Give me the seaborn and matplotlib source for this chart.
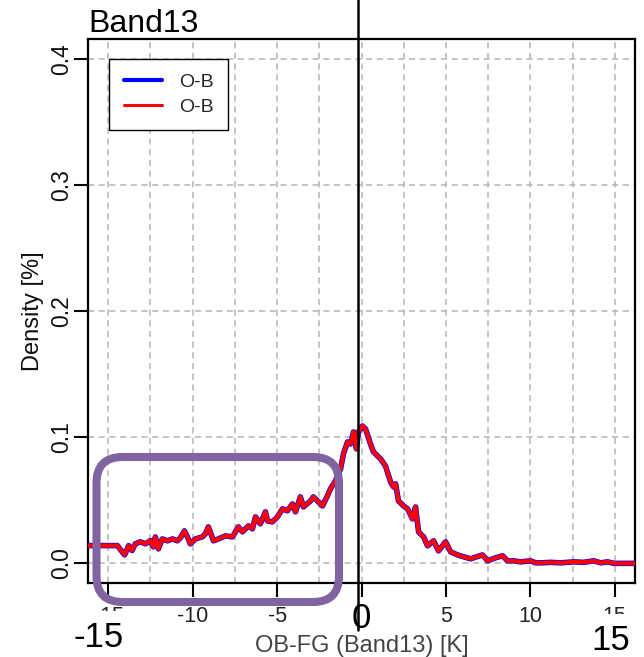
import matplotlib
matplotlib.use("Agg")
import matplotlib.pyplot as plt
from matplotlib.lines import Line2D
from matplotlib.patches import FancyBboxPatch
from matplotlib.transforms import blended_transform_factory, offset_copy
import seaborn as sns

# Departure statistics, Band13: density of OB-FG [K]
obs_x = [-16.2, -14.46, -14.22, -14.03, -13.79, -13.59, -13.40, -13.10, -12.80, -12.51,
         -12.33, -12.21, -12.03, -11.80, -11.50, -11.20, -10.91, -10.73, -10.49, -10.31,
         -10.14, -9.84, -9.43, -9.25, -9.07, -8.77, -8.48, -8.06, -7.65, -7.29,
         -7.05, -6.70, -6.46, -6.28, -5.99, -5.69, -5.57, -5.28, -4.98, -4.68,
         -4.39, -4.09, -3.91, -3.62, -3.44, -3.02, -2.85, -2.31, -2.02, -1.84,
         -1.54, -1.24, -1.07, -0.83, -0.65, -0.47, -0.30, -0.18, 0.06, 0.24,
         0.53, 0.71, 1.13, 1.42, 1.72, 1.90, 2.02, 2.19, 2.49, 2.73,
         3.02, 3.20, 3.38, 3.68, 3.91, 4.27, 4.56, 4.98, 5.28, 5.69,
         6.05, 6.46, 6.82, 7.17, 7.47, 7.94, 8.36, 8.65, 9.01, 9.42,
         10.02, 10.31, 10.61, 11.20, 11.80, 12.57, 13.16, 13.75, 14.17, 14.58,
         14.94, 15.65, 16.24]
obs_y = [0.0137, 0.0137, 0.0095, 0.0063, 0.0137, 0.0098, 0.0151, 0.0167, 0.0151, 0.0177,
         0.0127, 0.0206, 0.0111, 0.0190, 0.0175, 0.0190, 0.0175, 0.0198, 0.0254, 0.0206,
         0.0151, 0.0190, 0.0206, 0.0230, 0.0286, 0.0175, 0.0190, 0.0214, 0.0206, 0.0286,
         0.0246, 0.0294, 0.0270, 0.0365, 0.0310, 0.0405, 0.0333, 0.0325, 0.0365, 0.0429,
         0.0413, 0.0468, 0.0405, 0.0524, 0.0444, 0.0492, 0.0524, 0.0452, 0.0532, 0.0587,
         0.0651, 0.0746, 0.0865, 0.0960, 0.0944, 0.1040, 0.0905, 0.1040, 0.1087, 0.1063,
         0.0944, 0.0881, 0.0825, 0.0770, 0.0643, 0.0603, 0.0627, 0.0492, 0.0452, 0.0429,
         0.0349, 0.0444, 0.0246, 0.0206, 0.0135, 0.0175, 0.0095, 0.0167, 0.0087, 0.0063,
         0.0048, 0.0032, 0.0048, 0.0063, 0.0016, 0.0040, 0.0056, 0.0016, 0.0016, 0.0008,
         0.0016, 0.0000, 0.0000, 0.0004, 0.0000, 0.0008, 0.0004, 0.0016, 0.0000, 0.0008,
         -0.0004, -0.0004, -0.0004]

series_labels = ["O-B", "O-B"]
series_colors = ["blue", "red"]
x_ticks = [-15, -10, -5, 0, 5, 10, 15]
x_grid = [-15, -12.5, -10, -7.5, -5, -2.5, 0, 2.5, 5, 7.5, 10, 12.5, 15]
y_ticks = [0.0, 0.1, 0.2, 0.3, 0.4]
y_tick_labels = ["0.0", "0.1", "0.2", "0.3", "0.4"]
range_marks = [-15, 0, 15]

sns.set_theme(style="ticks")
plt.rcParams["font.family"] = ["Liberation Sans", "DejaVu Sans"]
plt.rcParams["axes.unicode_minus"] = False

W, H = 644, 657
fig = plt.figure(figsize=(W / 100, H / 100), dpi=100)
fig.patch.set_facecolor("white")
ax = fig.add_axes([88 / W, 1 - 583 / H, (635 - 88) / W, (583 - 39) / H])
ax.set_facecolor("white")

# density curve: blue underneath, red on top
sns.lineplot(x=obs_x, y=obs_y, color=series_colors[0], lw=4.0, ax=ax,
             sort=False, estimator=None, zorder=3)
sns.lineplot(x=obs_x, y=obs_y, color=series_colors[1], lw=3.0, ax=ax,
             sort=False, estimator=None, zorder=4)

ax.set_xlim(-16.2, 16.2)
ax.set_ylim(-0.016, 0.416)
ax.set_xticks(x_ticks)
ax.set_xticks(x_grid, minor=True)
ax.set_yticks(y_ticks)
ax.set_yticklabels(y_tick_labels, rotation=90, va="center")

grid_kw = dict(color="#b4b4b4", lw=1.1, linestyle=(0, (4, 3)))
ax.grid(which="both", axis="x", **grid_kw)
ax.grid(which="major", axis="y", **grid_kw)
ax.set_axisbelow(True)

ax.tick_params(axis="both", which="major", length=10, width=1.5, color="black",
               direction="out")
ax.tick_params(axis="both", which="minor", length=0)
ax.tick_params(axis="x", labelsize=15.5, labelcolor="#222222", pad=6.5)
ax.tick_params(axis="y", labelsize=16.5, labelcolor="#111111", pad=1)
for sp in ax.spines.values():
    sp.set_visible(True)
    sp.set_color("black")
    sp.set_linewidth(1.6)

ax.set_title("Band13", loc="left", fontsize=23, pad=2, color="black")
ax.set_xlabel("OB-FG (Band13) [K]", fontsize=17, color="#444444", labelpad=6)
ax.set_ylabel("Density [%]", fontsize=17, color="#111111", labelpad=4)

handles = [Line2D([], [], color=series_colors[0], lw=3.0, solid_capstyle="round"),
           Line2D([], [], color=series_colors[1], lw=2.2, solid_capstyle="round")]
leg = ax.legend(handles, series_labels, loc="upper left",
                bbox_to_anchor=((109 - 88) / 547, (583 - 59) / 544),
                borderaxespad=0, fontsize=14, frameon=True, fancybox=False,
                framealpha=1, edgecolor="black", handlelength=2.0,
                handletextpad=0.85, labelspacing=0.35, borderpad=0.75)
leg.get_frame().set_linewidth(1.0)

# callout frame around the negative tail
frame = FancyBboxPatch((96.5 / 100, (H - 602) / 100), (339 - 96.5) / 100, (602 - 457) / 100,
                       boxstyle="round,pad=0,rounding_size=0.26",
                       transform=fig.dpi_scale_trans, fill=False,
                       edgecolor="#8064A2", lw=5.8, zorder=5)
fig.patches.append(frame)

# range labels below the axis
bt = blended_transform_factory(ax.transData, fig.transFigure)
mark_dx = [-10, 0, -4]
mark_base = [647, 628, 650]
mark_pad = [0.3, 0.0, 0.3]
for val, dx, base, pad in zip(range_marks, mark_dx, mark_base, mark_pad):
    tr = offset_copy(bt, fig=fig, x=dx, y=0, units="dots")
    fig.text(val, 1 - base / H, f"{val:d}", transform=tr, ha="center", va="baseline",
             fontsize=25, color="black", zorder=6,
             bbox=dict(boxstyle=f"square,pad={pad}", fc="white", ec="none"))

# reference line at zero
tr0 = offset_copy(bt, fig=fig, x=-3.5, y=0, units="dots")
fig.lines.append(Line2D([range_marks[1], range_marks[1]], [1.0, 1 - 630 / H],
                        transform=tr0, color="black", lw=1.8, zorder=7))

fig.savefig("out.png", dpi=100, facecolor="white")
